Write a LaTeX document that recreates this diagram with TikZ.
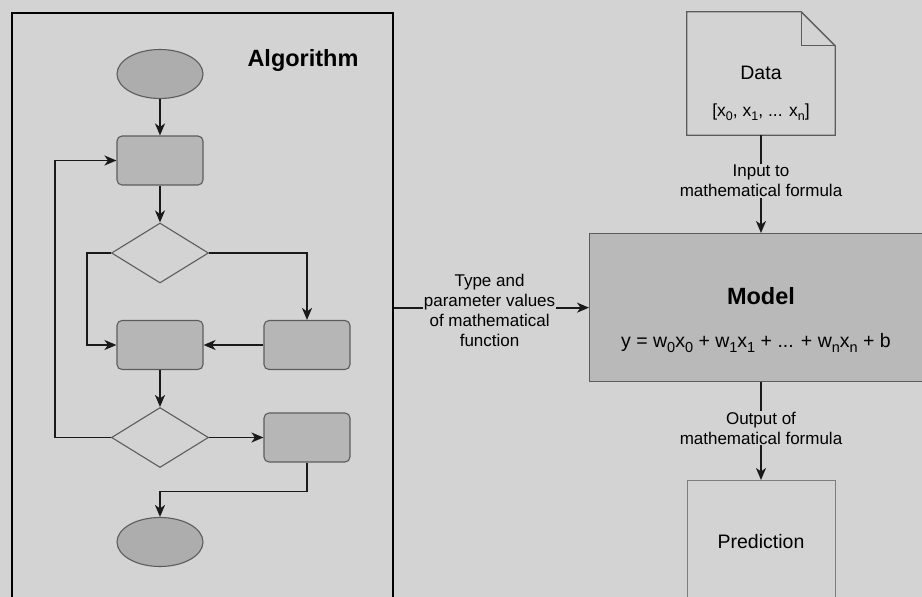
\documentclass[tikz,border=0pt]{standalone}
\usepackage{fontspec}
\setmainfont{Liberation Sans}
\usetikzlibrary{shapes.geometric,arrows.meta}
\definecolor{bgc}{HTML}{D3D3D3}
\definecolor{shapeline}{HTML}{5C5C5C}
\definecolor{boxfill}{HTML}{B6B6B6}
\definecolor{termfill}{HTML}{ADADAD}
\definecolor{modelfill}{HTML}{B9B9B9}
\newcommand\mysub[1]{\raisebox{-0.4ex}{\fontsize{12.5}{12.5}\selectfont #1}}
\newcommand\eqsub[1]{\raisebox{-0.4ex}{\fontsize{14.5}{14.5}\selectfont #1}}
\begin{document}
\begin{tikzpicture}[x=1pt,y=-1pt,
  box/.style={draw=shapeline, fill=boxfill, rounded corners=5pt, line width=1.1pt,
    minimum width=86pt, minimum height=49pt, inner sep=0pt},
  term/.style={ellipse, draw=shapeline, fill=termfill, line width=1.1pt,
    minimum width=86pt, minimum height=49pt, inner sep=0pt},
  dec/.style={diamond, draw=shapeline, line width=1.1pt,
    minimum width=97pt, minimum height=60pt, inner sep=0pt},
  conn/.style={line width=1.7pt, draw=black!90, -{Stealth[length=12pt,width=10pt,inset=3.5pt]}},
  ttl/.style={font=\fontsize{19.5}{23}\selectfont, inner sep=0pt},
  lbl/.style={font=\fontsize{17}{20}\selectfont, align=center, fill=bgc, inner sep=1pt},
  plain/.style={font=\fontsize{17.5}{20}\selectfont, inner sep=0pt},
  eqstyle/.style={font=\fontsize{19.5}{22}\selectfont, inner sep=0pt},
  bigbold/.style={font=\bfseries\fontsize{23.5}{28}\selectfont, inner sep=0pt}
]
\useasboundingbox (0,0) rectangle (922,597);
\clip (0,0) rectangle (922,597);
\fill[bgc] (0,0) rectangle (922,597);

% Algorithm frame
\node[draw=black, line width=2pt, minimum width=381pt, minimum height=640pt,
  anchor=north west, inner sep=0pt] (alg) at (11,12) {};
\node[bigbold] (algtitle) at (303,60) {Algorithm};

% flowchart
\node[term] (start) at (160,74) {};
\node[box] (r1) at (160,160.5) {};
\node[dec] (d1) at (160,253) {};
\node[box] (r2) at (160,345) {};
\node[box] (r3) at (307,345) {};
\node[dec] (d2) at (160,437.5) {};
\node[box] (r4) at (307,437.5) {};
\node[term] (stop) at (160,542) {};

\draw[conn] (start) -- (r1);
\draw[conn] (r1) -- (d1);
\draw[conn] (d1.west) -- ++(-24,0) |- (r2.west);
\draw[conn] (d1.east) -| (r3.north);
\draw[conn] (r3) -- (r2);
\draw[conn] (r2) -- (d2);
\draw[conn] (d2.west) -- ++(-56,0) |- (r1.west);
\draw[conn] (d2) -- (r4);
\draw[conn] (r4.south) -- ++(0,29) -| (stop.north);

% Data document
\node[minimum width=148pt, minimum height=123pt, inner sep=0pt] (data) at (761,73.5) {};
\draw[draw=shapeline, fill=bgc, line width=1.3pt]
  (data.north west) -- ([xshift=-34pt]data.north east)
  -- ([yshift=-34pt]data.north east) -- (data.south east)
  -- (data.south west) -- cycle;
\draw[draw=shapeline, line width=1.3pt]
  ([xshift=-34pt]data.north east) |- ([yshift=-34pt]data.north east);
\node[ttl] (datat) at (761,73) {Data};
\node[plain] (datax) at (761,112) {[x\mysub{0}, x\mysub{1}, ... x\mysub{n}]};

% Model
\node[draw=shapeline, fill=modelfill, line width=1.3pt, minimum width=380pt,
  minimum height=148pt, anchor=north west, inner sep=0pt] (model) at (589,233) {};
\node[bigbold] (modelt) at (761,296) {Model};
\node[eqstyle] (eq) at (756,343) {y = w\eqsub{0}x\eqsub{0} + w\eqsub{1}x\eqsub{1} + ... + w\eqsub{n}x\eqsub{n} + b};

% Prediction
\node[draw=shapeline!80, line width=1.3pt, minimum width=148pt, minimum height=160pt,
  anchor=north west, inner sep=0pt] (pred) at (687,480) {};
\node[ttl] (predt) at (761,542) {Prediction};

% connectors with labels
\draw[conn] (data.south) -- node[lbl, pos=0.47] (inlbl) {Input to\\mathematical formula}
  (data.south |- model.north);
\draw[conn] (data.south |- model.south) -- node[lbl, pos=0.47] (outlbl) {Output of\\mathematical formula}
  (data.south |- pred.north);
\draw[conn] (alg.east |- model.west) -- node[lbl, pos=0.49, yshift=-3pt] (typelbl)
  {Type and\\parameter values\\of mathematical\\function} (model.west);
\end{tikzpicture}
\end{document}
